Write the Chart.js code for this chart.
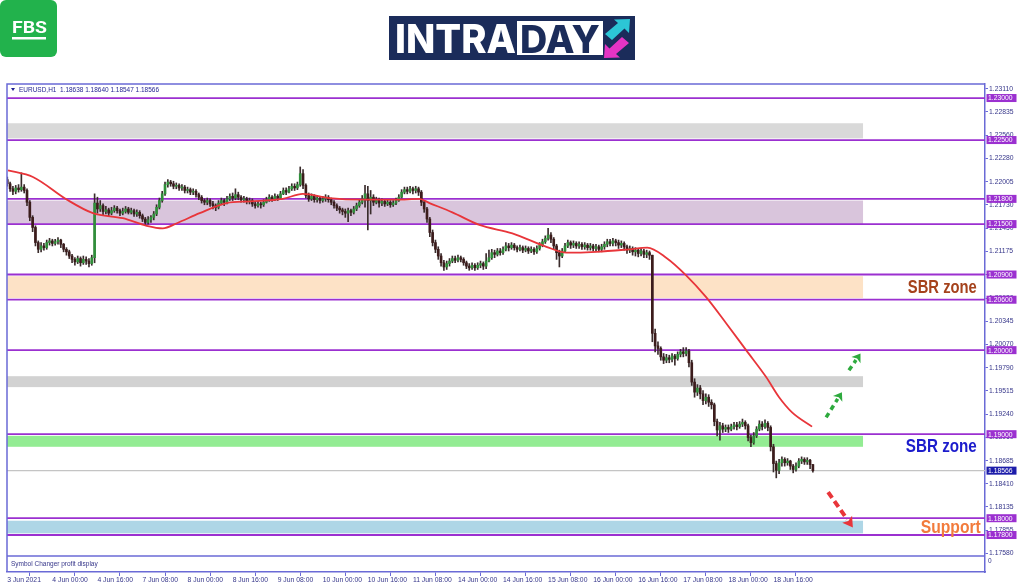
<!DOCTYPE html>
<html><head><meta charset="utf-8">
<script src="https://cdn.jsdelivr.net/npm/chart.js@4.4.1/dist/chart.umd.min.js"></script>
<style>
html,body{margin:0;padding:0;background:#fff;}
canvas{display:block;}
</style></head>
<body>
<canvas id="c" width="1024" height="587"></canvas>
<script>
// ---------- DATA (EURUSD H1, 3 Jun 08:00 .. 21 Jun 06:00) ----------
const symbolTitle = 'EURUSD,H1  1.18638 1.18640 1.18547 1.18566';
const firstOpen = 1.2203;
const closes = [
1.2198,1.2192,1.2189,1.2193,1.2191,1.2194,1.2190,1.2176,1.2158,1.2146,
1.2128,1.2120,1.2124,1.2122,1.2128,1.2130,1.2127,1.2129,1.2131,1.2126,
1.2120,1.2117,1.2112,1.2108,1.2105,1.2109,1.2104,1.2108,1.2106,1.2103,
1.2110,1.2175,1.2168,1.2172,1.2165,1.2167,1.2163,1.2166,1.2169,1.2166,
1.2163,1.2165,1.2168,1.2164,1.2166,1.2162,1.2164,1.2160,1.2156,1.2152,
1.2155,1.2158,1.2162,1.2170,1.2178,1.2186,1.2197,1.2200,1.2198,1.2195,
1.2196,1.2193,1.2194,1.2190,1.2191,1.2188,1.2189,1.2185,1.2182,1.2178,
1.2176,1.2178,1.2174,1.2172,1.2170,1.2175,1.2178,1.2176,1.2180,1.2183,
1.2181,1.2185,1.2182,1.2179,1.2180,1.2177,1.2178,1.2174,1.2172,1.2174,
1.2173,1.2176,1.2179,1.2182,1.2180,1.2183,1.2181,1.2186,1.2190,1.2188,
1.2192,1.2195,1.2193,1.2197,1.2210,1.2196,1.2184,1.2180,1.2183,1.2179,
1.2181,1.2178,1.2180,1.2182,1.2179,1.2176,1.2172,1.2169,1.2167,1.2165,
1.2163,1.2166,1.2164,1.2168,1.2172,1.2176,1.2180,1.2186,1.2178,1.2182,
1.2176,1.2179,1.2175,1.2177,1.2174,1.2176,1.2173,1.2175,1.2178,1.2182,
1.2188,1.2191,1.2189,1.2192,1.2190,1.2192,1.2188,1.2176,1.2168,1.2156,
1.2140,1.2128,1.2120,1.2112,1.2104,1.2099,1.2103,1.2106,1.2109,1.2107,
1.2110,1.2108,1.2104,1.2100,1.2098,1.2101,1.2098,1.2101,1.2103,1.2100,
1.2106,1.2110,1.2116,1.2114,1.2118,1.2116,1.2120,1.2124,1.2122,1.2125,
1.2122,1.2120,1.2122,1.2119,1.2121,1.2118,1.2120,1.2117,1.2121,1.2125,
1.2129,1.2133,1.2137,1.2132,1.2124,1.2116,1.2112,1.2118,1.2124,1.2128,
1.2125,1.2127,1.2124,1.2126,1.2123,1.2125,1.2122,1.2124,1.2121,1.2123,
1.2120,1.2123,1.2126,1.2129,1.2127,1.2130,1.2128,1.2125,1.2127,1.2123,
1.2119,1.2121,1.2117,1.2119,1.2115,1.2118,1.2114,1.2116,1.2113,1.2020,
1.2005,1.2002,1.1992,1.1988,1.1991,1.1989,1.1993,1.1990,1.1995,1.1998,
1.1996,1.1999,1.1985,1.1962,1.1950,1.1955,1.1948,1.1940,1.1944,1.1938,
1.1935,1.1915,1.1905,1.1910,1.1906,1.1908,1.1906,1.1909,1.1911,1.1909,
1.1912,1.1914,1.1910,1.1896,1.1890,1.1898,1.1906,1.1912,1.1909,1.1913,
1.1908,1.1885,1.1865,1.1857,1.1866,1.1870,1.1866,1.1868,1.1862,1.1858,
1.1862,1.1868,1.1870,1.1867,1.1869,1.18638,1.18566];
const highs = [
1.2206,1.2200,1.2195,1.2196,1.2197,1.2211,1.2197,1.2192,1.2178,1.2160,
1.2148,1.2130,1.2128,1.2127,1.2131,1.2133,1.2132,1.2132,1.2134,1.2132,
1.2127,1.2122,1.2119,1.2114,1.2110,1.2112,1.2111,1.2112,1.2111,1.2109,
1.2113,1.2186,1.2182,1.2178,1.2174,1.2171,1.2169,1.2170,1.2172,1.2171,
1.2168,1.2169,1.2171,1.2170,1.2169,1.2168,1.2167,1.2166,1.2162,1.2158,
1.2159,1.2160,1.2165,1.2173,1.2181,1.2189,1.2200,1.2203,1.2202,1.2201,
1.2199,1.2198,1.2197,1.2196,1.2194,1.2193,1.2192,1.2191,1.2187,1.2184,
1.2180,1.2181,1.2180,1.2177,1.2174,1.2178,1.2181,1.2180,1.2183,1.2186,
1.2187,1.2192,1.2188,1.2184,1.2183,1.2182,1.2181,1.2180,1.2177,1.2177,
1.2176,1.2179,1.2182,1.2185,1.2184,1.2186,1.2185,1.2189,1.2193,1.2193,
1.2195,1.2198,1.2198,1.2200,1.2218,1.2215,1.2198,1.2187,1.2186,1.2185,
1.2184,1.2183,1.2183,1.2185,1.2184,1.2181,1.2178,1.2174,1.2171,1.2169,
1.2168,1.2169,1.2168,1.2171,1.2175,1.2179,1.2184,1.2196,1.2195,1.2190,
1.2185,1.2182,1.2181,1.2180,1.2179,1.2179,1.2178,1.2178,1.2181,1.2185,
1.2191,1.2194,1.2194,1.2195,1.2194,1.2195,1.2194,1.2190,1.2178,1.2170,
1.2158,1.2143,1.2131,1.2123,1.2115,1.2107,1.2106,1.2109,1.2112,1.2112,
1.2113,1.2112,1.2110,1.2106,1.2103,1.2104,1.2103,1.2104,1.2106,1.2105,
1.2115,1.2119,1.2120,1.2119,1.2121,1.2121,1.2123,1.2128,1.2127,1.2128,
1.2127,1.2124,1.2125,1.2124,1.2124,1.2123,1.2123,1.2122,1.2124,1.2128,
1.2132,1.2136,1.2145,1.2140,1.2134,1.2126,1.2119,1.2121,1.2127,1.2131,
1.2130,1.2130,1.2129,1.2129,1.2128,1.2128,1.2127,1.2127,1.2126,1.2126,
1.2125,1.2126,1.2129,1.2132,1.2132,1.2133,1.2132,1.2131,1.2130,1.2129,
1.2125,1.2124,1.2123,1.2122,1.2121,1.2121,1.2120,1.2119,1.2118,1.2113,
1.2025,1.2010,1.2004,1.1996,1.1995,1.1994,1.1996,1.1995,1.1998,1.2001,
1.2003,1.2003,1.2001,1.1988,1.1966,1.1959,1.1958,1.1952,1.1948,1.1947,
1.1941,1.1937,1.1918,1.1914,1.1913,1.1911,1.1911,1.1912,1.1914,1.1914,
1.1915,1.1918,1.1916,1.1912,1.1899,1.1902,1.1909,1.1916,1.1915,1.1917,
1.1915,1.1910,1.1888,1.1868,1.1870,1.1873,1.1872,1.1871,1.1869,1.1864,
1.1866,1.1871,1.1873,1.1872,1.1872,1.1870,1.18640];
const lows = [
1.2195,1.2189,1.2185,1.2186,1.2188,1.2189,1.2187,1.2172,1.2154,1.2141,
1.2124,1.2116,1.2117,1.2119,1.2120,1.2125,1.2124,1.2125,1.2126,1.2122,
1.2117,1.2113,1.2109,1.2104,1.2101,1.2103,1.2100,1.2102,1.2102,1.2099,
1.2101,1.2104,1.2163,1.2165,1.2161,1.2162,1.2160,1.2161,1.2164,1.2163,
1.2160,1.2161,1.2163,1.2162,1.2162,1.2159,1.2159,1.2157,1.2153,1.2149,
1.2150,1.2152,1.2155,1.2160,1.2168,1.2176,1.2184,1.2194,1.2195,1.2192,
1.2192,1.2190,1.2190,1.2187,1.2187,1.2185,1.2185,1.2182,1.2179,1.2175,
1.2173,1.2173,1.2171,1.2168,1.2166,1.2168,1.2173,1.2172,1.2174,1.2178,
1.2178,1.2179,1.2179,1.2176,1.2176,1.2174,1.2174,1.2171,1.2169,1.2170,
1.2169,1.2171,1.2175,1.2177,1.2177,1.2178,1.2178,1.2180,1.2185,1.2185,
1.2187,1.2190,1.2190,1.2191,1.2195,1.2192,1.2181,1.2177,1.2178,1.2176,
1.2176,1.2175,1.2176,1.2177,1.2176,1.2173,1.2169,1.2166,1.2163,1.2161,
1.2158,1.2153,1.2160,1.2162,1.2166,1.2170,1.2174,1.2170,1.2143,1.2162,
1.2172,1.2174,1.2170,1.2172,1.2171,1.2172,1.2170,1.2171,1.2173,1.2177,
1.2181,1.2186,1.2186,1.2187,1.2186,1.2187,1.2184,1.2172,1.2164,1.2152,
1.2135,1.2124,1.2116,1.2108,1.2100,1.2095,1.2096,1.2100,1.2104,1.2104,
1.2105,1.2105,1.2101,1.2097,1.2095,1.2096,1.2095,1.2096,1.2098,1.2096,
1.2097,1.2105,1.2108,1.2110,1.2112,1.2113,1.2114,1.2118,1.2118,1.2120,
1.2119,1.2117,1.2118,1.2116,1.2117,1.2115,1.2116,1.2114,1.2115,1.2119,
1.2123,1.2127,1.2131,1.2128,1.2120,1.2108,1.2099,1.2110,1.2116,1.2122,
1.2121,1.2122,1.2121,1.2121,1.2120,1.2120,1.2119,1.2119,1.2118,1.2118,
1.2117,1.2117,1.2120,1.2123,1.2124,1.2124,1.2124,1.2121,1.2122,1.2119,
1.2115,1.2116,1.2113,1.2112,1.2111,1.2112,1.2110,1.2110,1.2108,1.2010,
1.1998,1.1995,1.1988,1.1984,1.1985,1.1985,1.1986,1.1982,1.1988,1.1992,
1.1992,1.1993,1.1980,1.1958,1.1944,1.1946,1.1942,1.1935,1.1936,1.1933,
1.1930,1.1910,1.1898,1.1893,1.1902,1.1903,1.1902,1.1904,1.1906,1.1905,
1.1907,1.1909,1.1906,1.1892,1.1885,1.1888,1.1896,1.1904,1.1905,1.1907,
1.1904,1.1880,1.1855,1.1848,1.1853,1.1862,1.1862,1.1863,1.1858,1.1854,
1.1856,1.1860,1.1865,1.1864,1.1864,1.1859,1.18547];

// moving average (bar index, price)
const maBars   = [0.25, 9.1, 21.2, 30.4, 41, 49.5, 55.2, 60.2, 68.3, 77.9, 86.1, 97.8, 104.9, 114.4, 126.1, 138.2, 146.3, 149.9, 158, 167.6, 179.3, 191.4, 198.5, 209.1, 220.8, 227.2, 233.9, 241, 248.1, 255.2, 262.3, 269.4, 274, 278.6, 285.7];
const maValues = [1.2214,1.2206,1.2179,1.2163,1.2157,1.2148,1.2145,1.2151,1.2163,1.2175,1.2177,1.2180,1.2186,1.2181,1.2179,1.2179,1.2180,1.2175,1.2164,1.2149,1.2139,1.2123,1.2116,1.2117,1.2120,1.2122,1.2110,1.2089,1.2063,1.2032,1.2000,1.1968,1.1944,1.1926,1.1909];

// time axis
const timeLabelBars = [0,16,32,48,64,80,96,112,128,144,160,176,192,208,224,240,256,272];
const timeLabels = ['3 Jun 2021','4 Jun 00:00','4 Jun 16:00','7 Jun 08:00','8 Jun 00:00','8 Jun 16:00','9 Jun 08:00','10 Jun 00:00','10 Jun 16:00','11 Jun 08:00','14 Jun 00:00','14 Jun 16:00','15 Jun 08:00','16 Jun 00:00','16 Jun 16:00','17 Jun 08:00','18 Jun 00:00','18 Jun 16:00'];

// price axis
const priceTicks = [1.23110,1.22835,1.22560,1.22280,1.22005,1.21730,1.21450,1.21175,1.20900,1.20620,1.20345,1.20070,1.19790,1.19515,1.19240,1.18960,1.18685,1.18410,1.18135,1.17855,1.17580];
const levelPrices = [1.23000,1.22500,1.21800,1.21500,1.20900,1.20600,1.20000,1.19000,1.18000,1.17800];
const lastPrice = 1.18566;

// zones (price bands) and their end bar
const zoneLows  = [1.2252, 1.2150, 1.2062, 1.1956, 1.1885, 1.1782];
const zoneHighs = [1.2270, 1.2178, 1.2088, 1.1969, 1.1898, 1.1797];
const zoneEndBar = 303.8;

// annotation arrows (bar, price) -> (bar, price)
const arrowFromBar   = [290.7, 298.8, 291.4];
const arrowFromPrice = [1.1920, 1.1976, 1.1831];
const arrowToBar     = [296.3, 302.9, 300.2];
const arrowToPrice   = [1.1950, 1.1996, 1.1789];

// text annotations
const noteTexts  = ['SBR zone', 'SBR zone', 'Support'];
const notePrices = [1.20752, 1.18859, 1.17905];

// ---------- STYLES ----------
const FRAME = '#6a6ad6', TXT = '#36368a', LEVEL = '#9b30d0';
const UP = '#2f8f3a', DOWN = '#3c1c1c', WICK = '#3a2c2c';
const zoneColors = ['#d9d9d9', '#d9c5dc', '#fde2c6', '#d2d2d2', '#93ec93', '#aed6e6'];
const arrowColors = ['#2eaa3e', '#2eaa3e', '#e8353a'];
const noteColors = ['#a5421c', '#1c1ccc', '#f27b3c'];
const noteWidths = [69, 71, 60];
const noteRightBar = [344.2, 344.2, 345.6];

const opens = closes.map((c, i) => i === 0 ? firstOpen : closes[i - 1]);
const wickData = closes.map((c, i) => ({x: i, y: [lows[i], highs[i]]}));
const bodyData = closes.map((c, i) => ({x: i, y: [opens[i], c]}));
const bodyColors = closes.map((c, i) => c >= opens[i] ? UP : DOWN);
const maData = maBars.map((b, k) => ({x: b, y: maValues[k]}));

function fitText(ctx, text, x, y, w, font, color, alignRight) {
  ctx.save();
  ctx.font = font; ctx.fillStyle = color; ctx.textBaseline = 'alphabetic'; ctx.textAlign = 'left';
  const m = ctx.measureText(text).width;
  const s = w / m;
  ctx.translate(alignRight ? x - w : x, y);
  ctx.scale(s, 1);
  ctx.fillText(text, 0, 0);
  ctx.restore();
}

function drawArrow(ctx, x1, y1, x2, y2, color, big) {
  const ang = Math.atan2(y2 - y1, x2 - x1);
  const head = big ? 10 : 8, hw = big ? 6 : 5.5;
  const bx = x2 - head * Math.cos(ang), by = y2 - head * Math.sin(ang);
  ctx.save();
  ctx.strokeStyle = color; ctx.lineWidth = big ? 4 : 3.5;
  ctx.setLineDash(big ? [7, 4] : [5, 4]);
  ctx.beginPath(); ctx.moveTo(x1, y1); ctx.lineTo(bx, by); ctx.stroke();
  ctx.setLineDash([]);
  ctx.fillStyle = color;
  ctx.beginPath();
  ctx.moveTo(x2, y2);
  ctx.lineTo(bx + hw * Math.sin(ang), by - hw * Math.cos(ang));
  ctx.lineTo(bx + 2 * Math.cos(ang), by + 2 * Math.sin(ang));
  ctx.lineTo(bx - hw * Math.sin(ang), by + hw * Math.cos(ang));
  ctx.closePath(); ctx.fill();
  ctx.restore();
}

const overlay = {
  id: 'overlay',
  beforeDatasetsDraw(chart) {
    const {ctx, chartArea: a, scales: {x, y}} = chart;
    ctx.save();
    ctx.beginPath(); ctx.rect(a.left, a.top, a.right - a.left, a.bottom - a.top); ctx.clip();
    const xe = x.getPixelForValue(zoneEndBar);
    zoneLows.forEach((lo, k) => {
      const yt = y.getPixelForValue(zoneHighs[k]), yb = y.getPixelForValue(lo);
      ctx.fillStyle = zoneColors[k];
      ctx.fillRect(a.left, yt, xe - a.left, yb - yt);
    });
    // last price line
    const yl = y.getPixelForValue(lastPrice);
    ctx.strokeStyle = '#c4c4c4'; ctx.lineWidth = 1.2;
    ctx.beginPath(); ctx.moveTo(a.left, yl); ctx.lineTo(a.right, yl); ctx.stroke();
    // levels
    ctx.strokeStyle = LEVEL; ctx.lineWidth = 1.8;
    levelPrices.forEach(p => {
      const yy = y.getPixelForValue(p);
      ctx.beginPath(); ctx.moveTo(a.left, yy); ctx.lineTo(a.right, yy); ctx.stroke();
    });
    ctx.restore();
  },
  afterDraw(chart) {
    const {ctx, chartArea: a, scales: {x, y}} = chart;
    ctx.save();
    // frame top/left and sub-window separator
    ctx.strokeStyle = FRAME; ctx.lineWidth = 1.5;
    ctx.beginPath();
    ctx.moveTo(a.left, a.bottom); ctx.lineTo(a.left, a.top); ctx.lineTo(a.right, a.top);
    ctx.stroke();
    const sep = a.bottom - 16;
    ctx.beginPath(); ctx.moveTo(a.left, sep); ctx.lineTo(a.right, sep); ctx.stroke();
    // white strip behind subwindow text
    ctx.fillStyle = TXT; ctx.font = '6.5px "Liberation Sans", sans-serif'; ctx.textBaseline = 'middle';
    ctx.fillText('Symbol Changer profit display', a.left + 4, sep + 8);
    ctx.fillText('0', a.right + 3, sep + 5);
    // header
    ctx.fillStyle = '#1f1f90';
    ctx.beginPath(); ctx.moveTo(a.left + 4, a.top + 4); ctx.lineTo(a.left + 8, a.top + 4); ctx.lineTo(a.left + 6, a.top + 7); ctx.closePath(); ctx.fill();
    fitText(ctx, symbolTitle, a.left + 12, a.top + 7.5, 140, '7px "Liberation Sans", sans-serif', '#1f1f90', false);

    // arrows
    ctx.save();
    ctx.beginPath(); ctx.rect(a.left, a.top, a.right - a.left, a.bottom - a.top); ctx.clip();
    arrowFromBar.forEach((b, k) => {
      drawArrow(ctx, x.getPixelForValue(b), y.getPixelForValue(arrowFromPrice[k]),
        x.getPixelForValue(arrowToBar[k]), y.getPixelForValue(arrowToPrice[k]), arrowColors[k], k === 2);
    });
    ctx.restore();

    // notes
    noteTexts.forEach((t, k) => {
      const yy = y.getPixelForValue(notePrices[k]) + 6.3;
      fitText(ctx, t, x.getPixelForValue(noteRightBar[k]), yy, noteWidths[k], 'bold 17.5px "Liberation Sans", Arial, sans-serif', noteColors[k], true);
    });

    // level labels on price axis
    ctx.font = '6.8px "Liberation Sans", sans-serif'; ctx.textBaseline = 'middle'; ctx.textAlign = 'left';
    levelPrices.forEach(p => {
      const yy = y.getPixelForValue(p);
      ctx.fillStyle = LEVEL; ctx.fillRect(a.right + 1.5, yy - 4, 30, 8);
      ctx.fillStyle = '#ffffff'; ctx.fillText(p.toFixed(5), a.right + 3, yy + 0.5);
    });
    const yl = y.getPixelForValue(lastPrice);
    ctx.fillStyle = '#1c1caa'; ctx.fillRect(a.right + 1.5, yl - 4, 30, 8);
    ctx.fillStyle = '#ffffff'; ctx.fillText(lastPrice.toFixed(5), a.right + 3, yl + 0.5);

    // ---- logos ----
    // FBS
    ctx.fillStyle = '#22b24c';
    ctx.beginPath(); ctx.roundRect(0, 0, 57, 57, 6); ctx.fill();
    fitText(ctx, 'FBS', 12, 33, 35, 'bold 17px Roboto, "Liberation Sans", sans-serif', '#ffffff', false);
    ctx.fillStyle = '#ffffff'; ctx.fillRect(12, 37, 34, 2.5);
    // INTRADAY
    ctx.fillStyle = '#1b2c5a'; ctx.fillRect(389, 16, 246, 44);
    fitText(ctx, 'INTRA', 395, 53, 121, '800 40px Inter, "Open Sans", sans-serif', '#ffffff', false);
    ctx.fillStyle = '#ffffff'; ctx.fillRect(517, 21, 86, 34);
    fitText(ctx, 'DAY', 520, 52.5, 80, '800 38px Inter, "Open Sans", sans-serif', '#1b2c5a', false);
    // cyan arrow (up-right)
    ctx.fillStyle = '#2cc6d6';
    ctx.beginPath();
    ctx.moveTo(630, 19); ctx.lineTo(629, 33); ctx.lineTo(624.5, 28.5); ctx.lineTo(612, 40);
    ctx.lineTo(605, 34); ctx.lineTo(618, 23); ctx.lineTo(614, 19.5); ctx.closePath(); ctx.fill();
    // magenta arrow (down-left)
    ctx.fillStyle = '#e534c4';
    ctx.beginPath();
    ctx.moveTo(604, 58); ctx.lineTo(605, 44); ctx.lineTo(609.5, 48.5); ctx.lineTo(622, 37);
    ctx.lineTo(629, 43); ctx.lineTo(616, 54); ctx.lineTo(620, 57.5); ctx.closePath(); ctx.fill();
    ctx.restore();
  }
};

new Chart(document.getElementById('c'), {
  type: 'bar',
  data: {
    datasets: [
      {type: 'line', data: maData, borderColor: '#e8353a', borderWidth: 1.8, pointRadius: 0,
       cubicInterpolationMode: 'monotone', order: 0},
      {data: bodyData, backgroundColor: bodyColors, barThickness: 2, grouped: false, minBarLength: 1, order: 1},
      {data: wickData, backgroundColor: WICK, barThickness: 1, grouped: false, order: 2}
    ]
  },
  options: {
    responsive: false, animation: false, devicePixelRatio: 1,
    layout: {padding: {top: 84, left: 7, right: 0, bottom: 0}},
    plugins: {legend: {display: false}, tooltip: {enabled: false}},
    scales: {
      x: {
        type: 'linear', min: -0.1, max: 347.1, offset: false,
        grid: {display: true, drawOnChartArea: false, tickLength: 4, color: FRAME, lineWidth: 1},
        border: {color: FRAME, width: 1.5},
        afterBuildTicks: s => { s.ticks = timeLabelBars.map(v => ({value: v})); },
        afterFit: s => { s.height = 15; },
        ticks: {autoSkip: false, maxRotation: 0, minRotation: 0, align: 'start', padding: 0, color: TXT,
          font: {size: 6.8, family: '"Liberation Sans", sans-serif'},
          callback: v => timeLabels[timeLabelBars.indexOf(Math.round(v))]}
      },
      y: {
        position: 'right', min: 1.17360, max: 1.23167,
        grid: {display: true, drawOnChartArea: false, tickLength: 3, color: FRAME},
        border: {color: FRAME, width: 1.5},
        afterBuildTicks: s => { s.ticks = priceTicks.map(v => ({value: v})); },
        afterFit: s => { s.width = 39; },
        ticks: {autoSkip: false, padding: 1, color: TXT,
          font: {size: 6.8, family: '"Liberation Sans", sans-serif'},
          callback: v => Number(v).toFixed(5)}
      }
    }
  },
  plugins: [overlay]
});
</script>
</body></html>
